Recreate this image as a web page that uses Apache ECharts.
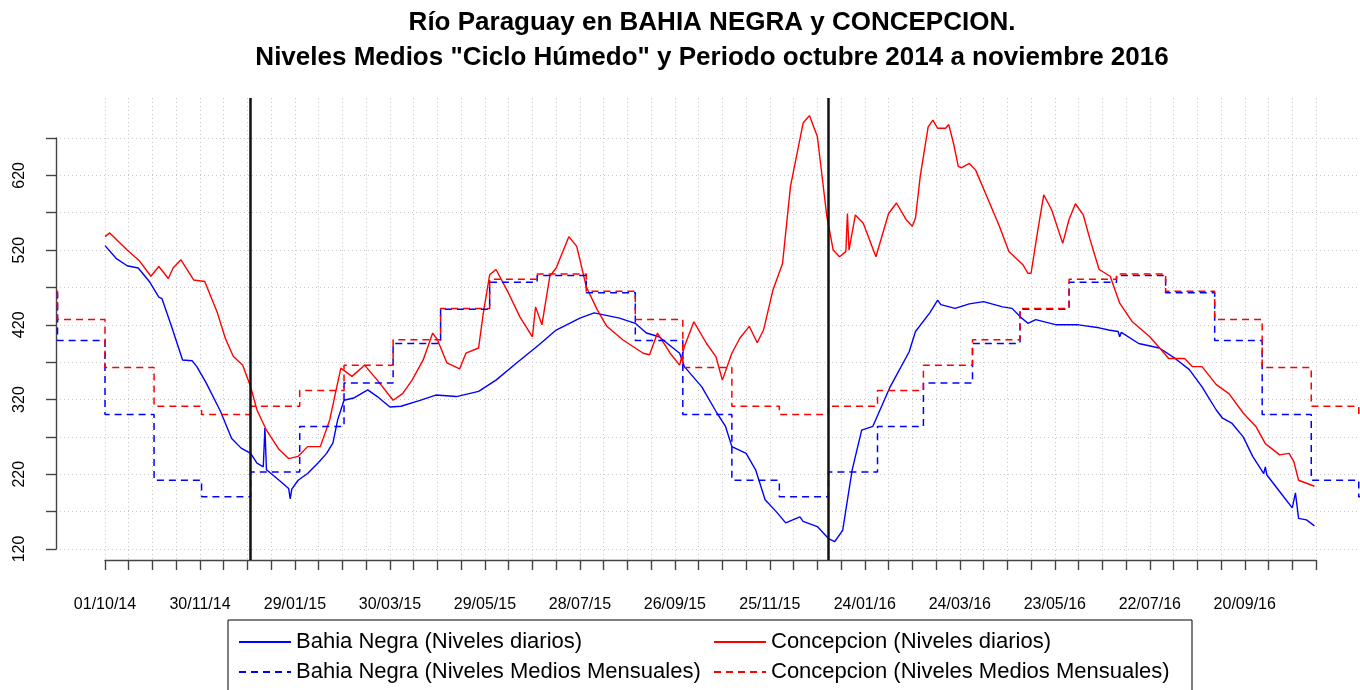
<!DOCTYPE html>
<html>
<head>
<meta charset="utf-8">
<title>Río Paraguay en Bahia Negra y Concepcion</title>
<script src="https://cdn.jsdelivr.net/npm/echarts@6.0.0/dist/echarts.min.js"></script>
<style>
    html, body { margin: 0; padding: 0; background: #fff; }
    #grafico { width: 1360px; height: 690px; }
</style>
</head>
<body>
<div id="grafico"></div>
<script>
// Bahia Negra, niveles diarios (cm)
var bnFechas = ['2014-10-01','2014-10-08','2014-10-15','2014-10-22','2014-10-29','2014-11-04','2014-11-06','2014-11-12',
    '2014-11-19','2014-11-25','2014-11-28','2014-12-04','2014-12-13','2014-12-20','2014-12-26','2015-01-01','2015-01-05',
    '2015-01-09','2015-01-10','2015-01-11','2015-01-19','2015-01-25','2015-01-26','2015-01-27','2015-01-31','2015-02-06',
    '2015-02-13','2015-02-18','2015-02-22','2015-02-25','2015-03-01','2015-03-07','2015-03-16','2015-03-22','2015-03-30',
    '2015-04-06','2015-04-18','2015-04-28','2015-05-11','2015-05-25','2015-06-05','2015-06-18','2015-07-02','2015-07-13',
    '2015-07-28','2015-08-06','2015-08-22','2015-09-01','2015-09-08','2015-09-16','2015-09-29','2015-10-02','2015-10-13',
    '2015-10-22','2015-10-28','2015-11-01','2015-11-10','2015-11-16','2015-11-22','2015-11-29','2015-12-05','2015-12-14',
    '2015-12-16','2015-12-25','2016-01-01','2016-01-05','2016-01-10','2016-01-12','2016-01-16','2016-01-22','2016-01-29',
    '2016-02-09','2016-02-21','2016-02-25','2016-03-05','2016-03-10','2016-03-12','2016-03-21','2016-03-30','2016-04-08',
    '2016-04-20','2016-04-26','2016-05-01','2016-05-06','2016-05-11','2016-05-24','2016-06-07','2016-06-20','2016-06-26',
    '2016-07-02','2016-07-03','2016-07-04','2016-07-15','2016-07-28','2016-08-07','2016-08-16','2016-08-24','2016-09-02',
    '2016-09-06','2016-09-12','2016-09-19','2016-09-25','2016-10-02','2016-10-03','2016-10-04','2016-10-12','2016-10-20',
    '2016-10-22','2016-10-24','2016-10-29','2016-11-03'];
var bnNiveles = [526,509,499,496,478,457,455,418,
    373,372,364,342,304,268,255,248,235,
    230,282,226,212,201,187,200,212,221,
    236,248,262,293,319,322,333,324,310,
    311,319,326,324,331,346,369,393,413,
    429,436,429,422,409,404,382,364,337,
    304,284,257,248,226,186,170,155,163,
    157,150,134,130,145,172,226,279,284,
    337,384,411,436,453,447,442,448,451,
    444,442,431,422,427,420,420,416,413,
    411,404,410,395,389,375,360,337,306,
    295,288,270,244,221,230,219,197,175,
    195,161,159,151];

// Concepcion, niveles diarios (cm)
var coFechas = ['2014-10-01','2014-10-04','2014-10-15','2014-10-23','2014-10-30','2014-11-04','2014-11-10','2014-11-13',
    '2014-11-18','2014-11-26','2014-12-03','2014-12-11','2014-12-16','2014-12-21','2014-12-27','2015-01-01','2015-01-05',
    '2015-01-11','2015-01-19','2015-01-25','2015-01-31','2015-02-06','2015-02-14','2015-02-20','2015-02-24','2015-02-27',
    '2015-03-06','2015-03-14','2015-03-22','2015-04-01','2015-04-07','2015-04-13','2015-04-20','2015-04-26','2015-04-29',
    '2015-05-05','2015-05-13','2015-05-17','2015-05-25','2015-05-28','2015-06-01','2015-06-05','2015-06-13','2015-06-20',
    '2015-06-28','2015-06-30','2015-07-04','2015-07-09','2015-07-13','2015-07-21','2015-07-26','2015-08-01','2015-08-08',
    '2015-08-14','2015-08-24','2015-09-06','2015-09-10','2015-09-15','2015-09-23','2015-09-29','2015-10-02','2015-10-08',
    '2015-10-16','2015-10-22','2015-10-26','2015-11-01','2015-11-06','2015-11-12','2015-11-17','2015-11-21','2015-11-27',
    '2015-12-03','2015-12-08','2015-12-16','2015-12-20','2015-12-25','2015-12-31','2016-01-04','2016-01-08','2016-01-12',
    '2016-01-13','2016-01-14','2016-01-18','2016-01-23','2016-01-31','2016-02-08','2016-02-13','2016-02-19','2016-02-23',
    '2016-02-25','2016-02-28','2016-03-04','2016-03-07','2016-03-10','2016-03-15','2016-03-17','2016-03-20','2016-03-23',
    '2016-03-25','2016-03-30','2016-04-03','2016-04-10','2016-04-18','2016-04-24','2016-05-03','2016-05-06','2016-05-08',
    '2016-05-12','2016-05-16','2016-05-21','2016-05-28','2016-06-01','2016-06-05','2016-06-10','2016-06-14','2016-06-20',
    '2016-06-27','2016-07-03','2016-07-11','2016-07-22','2016-08-03','2016-08-13','2016-08-18','2016-08-24','2016-09-02',
    '2016-09-10','2016-09-19','2016-09-27','2016-10-03','2016-10-12','2016-10-18','2016-10-21','2016-10-24','2016-11-03'];
var coNiveles = [538,543,520,505,485,498,482,496,
    507,480,478,436,402,378,366,337,306,
    279,253,241,244,257,257,293,333,362,
    351,366,346,319,328,346,373,409,400,
    369,361,382,389,436,487,494,462,431,
    404,444,420,485,496,538,525,471,440,
    418,400,382,380,409,382,366,391,424,
    395,377,346,382,402,418,396,413,467,
    502,605,690,700,672,565,520,511,518,
    569,520,567,556,511,569,583,561,552,
    563,619,685,694,683,683,688,663,632,
    630,636,627,592,552,518,500,489,489,
    543,594,574,529,561,582,567,536,494,
    485,449,424,404,375,375,364,364,340,
    328,302,284,261,246,248,237,212,204];

// niveles medios mensuales "ciclo humedo"
var meses = ['2014-08','2014-09','2014-10','2014-11','2014-12','2015-01','2015-02','2015-03','2015-04','2015-05',
    '2015-06','2015-07','2015-08','2015-09','2015-10','2015-11','2015-12','2016-01','2016-02','2016-03',
    '2016-04','2016-05','2016-06','2016-07','2016-08','2016-09','2016-10','2016-11','2016-12'];
var bnMensual = [463,399,300,212,190,223,284,342,395,441,
    477,486,463,399,300,212,190,223,284,342,
    395,441,477,486,463,399,300,212,190];
var coMensual = [465,427,363,311,300,311,332,366,400,442,
    481,488,465,427,363,311,300,311,332,366,
    400,442,481,488,465,427,363,311,300];

// cambio de año (lineas verticales)
var cortes = ['2015-01-01', '2016-01-01'];

var nombres = ['Bahia Negra (Niveles diarios)', 'Concepcion (Niveles diarios)',
    'Bahia Negra (Niveles Medios Mensuales)', 'Concepcion (Niveles Medios Mensuales)'];

var FUENTE = '"Liberation Sans", Arial, Helvetica, sans-serif';
var ORIGEN = new Date(2014, 9, 1);   // 01/10/14 = dia 0

// dias desde el origen
var diaDe = function (s) {
    var p = s.split('-');
    var d = new Date(+p[0], +p[1] - 1, p[2] ? +p[2] : 1);
    return Math.round((d - ORIGEN) / 86400000);
};
var dos = function (n) { return (n < 10 ? '0' : '') + n; };
var etiquetaFecha = function (v) {
    var d = new Date(2014, 9, 1 + v);
    return dos(d.getDate()) + '/' + dos(d.getMonth() + 1) + '/' + String(d.getFullYear()).slice(2);
};
var serieDiaria = function (fechas, niveles) {
    return fechas.map(function (f, i) { return [diaDe(f), niveles[i]]; });
};
// escalones: cada mes del primer dia al primer dia del mes siguiente
var serieMensual = function (valores) {
    var out = [];
    meses.forEach(function (m, i) {
        var p = m.split('-');
        var ini = Math.round((new Date(+p[0], +p[1] - 1, 1) - ORIGEN) / 86400000);
        var fin = Math.round((new Date(+p[0], +p[1], 1) - ORIGEN) / 86400000);
        out.push([ini, valores[i]]);
        out.push([fin, valores[i]]);
    });
    return out;
};

var grafico = function () {
    var box = document.getElementById('grafico');
    var myChart = echarts.init(box);

    // marco de los ejes (en pixeles)
    var ejeX = { left: 105, width: 1211, dMax: 765 };     // 0..765 dias
    var ejeY = { top: 138, height: 411, vMin: 120, vMax: 670 };
    var area = { left: 56, top: 98, width: 1304, height: 462 };
    var pxDia = ejeX.width / ejeX.dMax;
    var pxNivel = ejeY.height / (ejeY.vMax - ejeY.vMin);
    var xMin = -(ejeX.left - area.left) / pxDia;
    var xMax = xMin + area.width / pxDia;
    var yMax = ejeY.vMax + (ejeY.top - area.top) / pxNivel;
    var yMin = ejeY.vMin - (area.top + area.height - ejeY.top - ejeY.height) / pxNivel;

    var grilla = { color: '#c8c8c8', type: [1, 3], width: 1 };
    var lineaEje = { show: true, lineStyle: { color: '#444', width: 1.4 } };

    var option = {
        animation: false,
        backgroundColor: '#fff',
        title: {
            text: 'Río Paraguay en BAHIA NEGRA y CONCEPCION.\nNiveles Medios "Ciclo Húmedo" y Periodo octubre 2014 a noviembre 2016',
            left: 712,
            top: 5,
            padding: 0,
            textAlign: 'center',
            textStyle: { fontFamily: FUENTE, fontSize: 26, fontWeight: 'bold', lineHeight: 35, color: '#000' }
        },
        legend: {
            data: nombres,
            orient: 'horizontal',
            left: 228,
            top: 620,
            width: 945,
            itemGap: 8,
            itemWidth: 52,
            itemHeight: 14,
            padding: [11, 12, 14, 10],
            borderColor: '#000',
            borderWidth: 1,
            selectedMode: false,
            itemStyle: { opacity: 0 },
            textStyle: { fontFamily: FUENTE, fontSize: 22, lineHeight: 22, width: 409, color: '#000' }
        },
        grid: [
            { left: ejeX.left, top: area.top, width: ejeX.width, height: area.height },
            { left: area.left, top: ejeY.top, width: area.width, height: ejeY.height },
            { left: area.left, top: area.top, width: area.width, height: area.height }
        ],
        xAxis: [
            {
                gridIndex: 0, type: 'value', min: 0, max: ejeX.dMax, interval: 15,
                axisLine: lineaEje,
                axisTick: { show: true, length: 10, lineStyle: { color: '#444', width: 1.4 } },
                axisLabel: {
                    margin: 37, fontFamily: FUENTE, fontSize: 16, color: '#000',
                    formatter: function (v) { return v % 60 === 0 ? etiquetaFecha(v) : ''; }
                },
                splitLine: { show: true, lineStyle: grilla }
            },
            { gridIndex: 1, type: 'value', show: false, min: 0, max: 1 },
            { gridIndex: 2, type: 'value', show: false, min: xMin, max: xMax }
        ],
        yAxis: [
            { gridIndex: 0, type: 'value', show: false, min: 0, max: 1 },
            {
                gridIndex: 1, type: 'value', min: ejeY.vMin, max: ejeY.vMax, interval: 50,
                axisLine: lineaEje,
                axisTick: { show: true, length: 10, lineStyle: { color: '#444', width: 1.4 } },
                axisLabel: {
                    rotate: 90, margin: 28, fontFamily: FUENTE, fontSize: 16, color: '#000',
                    formatter: function (v) { return (v - 120) % 100 === 0 ? String(v) : ''; }
                },
                splitLine: { show: true, lineStyle: grilla }
            },
            { gridIndex: 2, type: 'value', show: false, min: yMin, max: yMax }
        ],
        series: [
            {
                name: nombres[0], type: 'line', xAxisIndex: 2, yAxisIndex: 2,
                data: serieDiaria(bnFechas, bnNiveles), symbol: 'none',
                lineStyle: { color: '#0000ff', width: 1.4 }, itemStyle: { color: '#0000ff' }
            },
            {
                name: nombres[1], type: 'line', xAxisIndex: 2, yAxisIndex: 2,
                data: serieDiaria(coFechas, coNiveles), symbol: 'none',
                lineStyle: { color: '#ff0000', width: 1.4 }, itemStyle: { color: '#ff0000' }
            },
            {
                name: nombres[2], type: 'line', xAxisIndex: 2, yAxisIndex: 2,
                data: serieMensual(bnMensual), symbol: 'none',
                lineStyle: { color: '#0000ff', width: 1.5, type: [7, 5] }, itemStyle: { color: '#0000ff' }
            },
            {
                name: nombres[3], type: 'line', xAxisIndex: 2, yAxisIndex: 2,
                data: serieMensual(coMensual), symbol: 'none',
                lineStyle: { color: '#ff0000', width: 1.5, type: [7, 5] }, itemStyle: { color: '#ff0000' },
                markLine: {
                    silent: true, symbol: ['none', 'none'], label: { show: false },
                    lineStyle: { color: '#111', width: 2.5, type: 'solid' },
                    data: cortes.map(function (c) { return { xAxis: diaDe(c) }; })
                }
            }
        ]
    };

    myChart.setOption(option);
};

grafico();
</script>
</body>
</html>
